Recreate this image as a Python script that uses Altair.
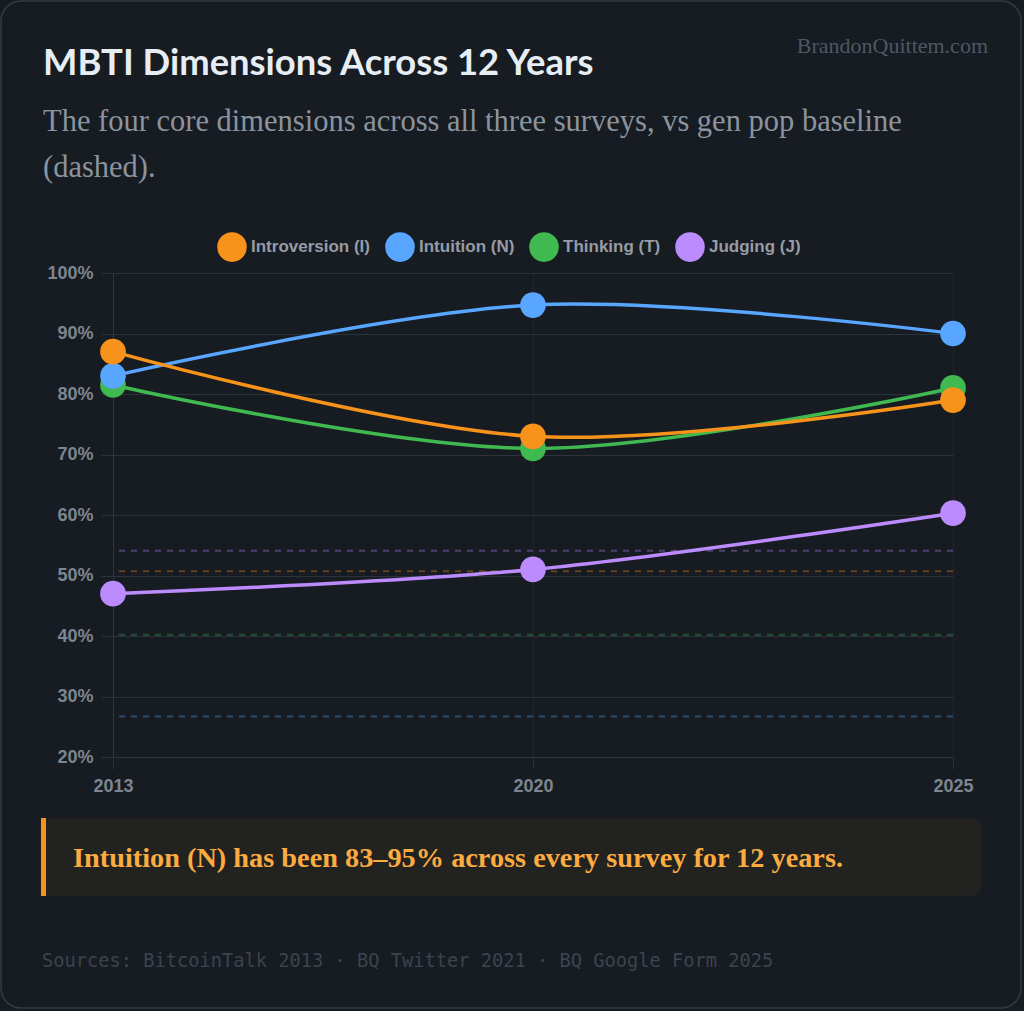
import altair as alt
import pandas as pd

# ---- data ----
years = ["2013", "2020", "2025"]
series_names = ["Introversion (I)", "Intuition (N)", "Thinking (T)", "Judging (J)"]
introversion = [87, 73, 79]
intuition = [83, 94.7, 90]
thinking = [81.5, 71, 81]
judging = [47, 51, 60.3]
baseline = [50.7, 26.7, 40.2, 54.1]  # gen pop baseline (dashed)
colors = ["#f7931a", "#58a6ff", "#3fb950", "#bc8cff"]
y_ticks = [20, 30, 40, 50, 60, 70, 80, 90, 100]

title_text = "MBTI Dimensions Across 12 Years"
subtitle_lines = ["The four core dimensions across all three surveys, vs gen pop baseline", "(dashed)."]
watermark_text = "BrandonQuittem.com"
callout_text = "Intuition (N) has been 83\u201395% across every survey for 12 years."
footer_text = "Sources: BitcoinTalk 2013 \u00b7 BQ Twitter 2021 \u00b7 BQ Google Form 2025"

BG = "#171b22"

# series in drawing order (first series drawn on top)
values_by_series = {
    "Introversion (I)": introversion,
    "Intuition (N)": intuition,
    "Thinking (T)": thinking,
    "Judging (J)": judging,
}
rows = []
for order, name in enumerate(reversed(series_names)):
    for yr, v in zip(years, values_by_series[name]):
        rows.append({"series": name, "year": yr, "value": v, "ord": order})
df = pd.DataFrame(rows)
df_base = pd.DataFrame({"series": series_names, "value": baseline})

color_scale = alt.Scale(domain=series_names, range=colors)

x_enc = alt.X(
    "year:O",
    scale=alt.Scale(type="point", padding=0),
    axis=alt.Axis(
        title=None, labelAngle=0, labelFont="Liberation Sans", labelFontSize=18,
        labelFontWeight="bold", labelColor="#7d8590", labelPadding=8,
        tickSize=12, tickColor="#2a3038", domainColor="#30363d",
        grid=True, gridColor="#20252d", gridWidth=1,
    ),
)
y_enc = alt.Y(
    "value:Q",
    scale=alt.Scale(domain=[20, 100], nice=False, zero=False),
    axis=alt.Axis(
        title=None, values=y_ticks, labelExpr="datum.value + '%'",
        labelFont="Liberation Sans", labelFontSize=18, labelFontWeight="bold",
        labelColor="#7d8590", labelPadding=8, tickSize=12, tickColor="#2d333b",
        domainColor="#30363d", grid=True, gridColor="#2d333b", gridWidth=1,
    ),
)

one = pd.DataFrame({"k": [0]})


def text_layer(txt, x, y, font, size, color, weight="normal", align="left"):
    return alt.Chart(pd.DataFrame({"t": [txt]})).mark_text(
        font=font, fontSize=size, color=color, fontWeight=weight,
        align=align, baseline="alphabetic",
    ).encode(text="t:N", x=alt.value(x), y=alt.value(y))


card = alt.Chart(one).mark_rect(
    fillOpacity=0, stroke="#353b44", strokeWidth=1.5, cornerRadius=20
).encode(x=alt.value(-112), x2=alt.value(908), y=alt.value(-272), y2=alt.value(735))

callout_box = alt.Chart(one).mark_rect(
    fill="#222220", cornerRadiusTopRight=12, cornerRadiusBottomRight=12
).encode(x=alt.value(-72), x2=alt.value(869), y=alt.value(545), y2=alt.value(623))
callout_bar = alt.Chart(one).mark_rect(fill="#f7931a").encode(
    x=alt.value(-72), x2=alt.value(-67), y=alt.value(545), y2=alt.value(623)
)

title = text_layer(title_text, -70, -198, "Lato", 36.4, "#e6edf3", weight="bold")
sub1 = text_layer(subtitle_lines[0], -70, -142, "Liberation Serif", 30.5, "#8b949e")
sub2 = text_layer(subtitle_lines[1], -70, -96, "Liberation Serif", 30.5, "#8b949e")
watermark = text_layer(watermark_text, 875, -220, "Liberation Serif", 22, "#4f5762", align="right")
callout = text_layer(callout_text, -40, 594, "Liberation Serif", 28.3, "#fbab40", weight="bold")
footer = text_layer(footer_text, -71, 694, "DejaVu Sans Mono", 18.7, "#3d444d")

rules = alt.Chart(df_base).mark_rule(strokeDash=[6, 6], strokeWidth=2, opacity=0.35).encode(
    y=alt.Y("value:Q"),
    color=alt.Color("series:N", scale=color_scale, legend=None),
)

lines = alt.Chart(df).mark_line(strokeWidth=3.5, interpolate="cardinal", tension=0).encode(
    x=x_enc, y=y_enc,
    color=alt.Color("series:N", scale=color_scale, legend=None),
    detail="ord:O",
)

points = alt.Chart(df).mark_circle(size=660, opacity=1).encode(
    x=x_enc, y=y_enc,
    color=alt.Color(
        "series:N", scale=color_scale,
        legend=alt.Legend(
            title=None, orient="none", legendX=104, legendY=-41, direction="horizontal",
            labelFont="Liberation Sans", labelFontSize=17, labelFontWeight="bold",
            labelColor="#959ca5", symbolType="circle", symbolSize=880,
            symbolStrokeWidth=0, symbolOpacity=1, labelOffset=4, columnPadding=14,
            padding=0,
        ),
    ),
    order=alt.Order("ord:Q"),
)

chart = alt.layer(
    card, callout_box, callout_bar, title, sub1, sub2, watermark, callout, footer,
    rules, lines, points,
).resolve_legend(color="independent").properties(
    width=840, height=484,
    autosize=alt.AutoSizeParams(type="none"),
    padding={"left": 113, "top": 273, "right": 71, "bottom": 254},
    background=BG,
).configure_view(strokeWidth=0)

chart.save("out.html", embed_options={"renderer": "svg", "actions": False})
